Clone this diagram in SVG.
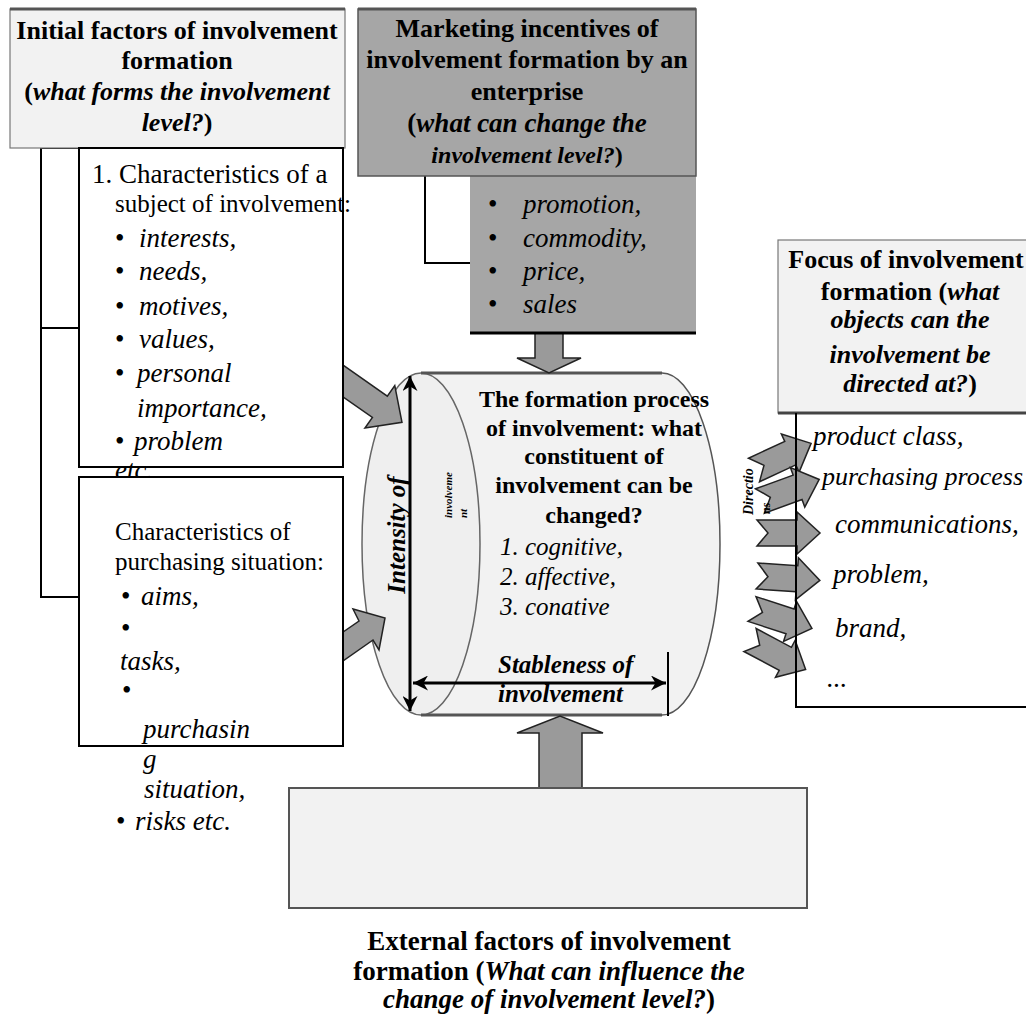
<svg xmlns="http://www.w3.org/2000/svg" width="1026" height="1015" viewBox="0 0 1026 1015">
<defs>
<style>
.t{font-family:'Liberation Serif','Times New Roman',serif;fill:#000}
.b{font-weight:bold}
.i{font-style:italic}
.n{font-style:normal}
.c{text-anchor:middle}
.s25{font-size:25px}
.s27{font-size:27px}
.s26{font-size:26px}
.blk{fill:#9a9a9a;stroke:#222;stroke-width:1.5;stroke-linejoin:miter}
.wbox{fill:#fff;stroke:#000;stroke-width:2}
.lbox{fill:#f2f2f2;stroke:#777;stroke-width:1.2}
.ln{fill:none;stroke:#000;stroke-width:2}
.dim{fill:none;stroke:#000;stroke-width:3}
</style>
<marker id="ah" viewBox="0 0 10 10" refX="10" refY="5" markerWidth="17" markerHeight="15" markerUnits="userSpaceOnUse" orient="auto-start-reverse">
<path d="M0,0 L10,5 L0,10 L3,5 z" fill="#000"/>
</marker>
<path id="chev" d="M0,-13 L40,-13 L40,-21 L63,0 L40,21 L40,13 L0,13 L11,0 z"/>
</defs>
<rect width="1026" height="1015" fill="#fff"/>

<!-- central cylinder -->
<g id="process">
<path d="M421,373 L662,373 A58,171 0 0 1 662,715 L421,715 z" fill="#f2f2f2"/>
<path d="M662,373 A58,171 0 0 1 662,715" fill="none" stroke="#555" stroke-width="1.5"/>
<ellipse cx="421" cy="544" rx="59" ry="171" fill="#efefef" stroke="#666" stroke-width="1.5"/>
<line x1="421" y1="373" x2="662" y2="373" stroke="#555" stroke-width="3"/>
<line x1="421" y1="715" x2="662" y2="715" stroke="#555" stroke-width="3"/>
<text class="t b c" font-size="24"><tspan x="594" y="407">The formation process</tspan><tspan x="594" y="436">of involvement: what</tspan><tspan x="594" y="464">constituent of</tspan><tspan x="594" y="493">involvement can be</tspan><tspan x="594" y="523">changed?</tspan></text>
<text class="t i s25"><tspan x="500" y="555">1. cognitive,</tspan><tspan x="500" y="585">2. affective,</tspan><tspan x="500" y="615">3. conative</tspan></text>
<line class="dim" x1="410" y1="376" x2="410" y2="711" marker-start="url(#ah)" marker-end="url(#ah)"/>
<line class="dim" x1="413" y1="683" x2="666" y2="683" marker-start="url(#ah)" marker-end="url(#ah)"/>
<line x1="668" y1="652" x2="668" y2="716" stroke="#000" stroke-width="2"/>
<text class="t b i s25" transform="translate(405,535) rotate(-90)" text-anchor="middle">Intensity of</text>
<text class="t b i" font-size="11" transform="translate(452,518) rotate(-90)">involveme</text>
<text class="t b i" font-size="11" transform="translate(467,518) rotate(-90)">nt</text>
<text class="t b i s25"><tspan x="498" y="673">Stableness of</tspan><tspan x="498" y="702">involvement</tspan></text>
</g>

<!-- connectors: block arrows and brackets -->
<g id="connectors">
<polygon class="blk" transform="translate(343,381) rotate(35)" points="-12,-13 45,-13 45,-26 72,0 45,26 45,13 -12,13"/>
<polygon class="blk" points="330,641 359,621 353,609 385,618 379,650 373,640 330,670"/>
<polygon class="blk" points="535,330 563,330 563,358 581,358 549,373 517,358 535,358"/>
<polygon class="blk" points="539,788 582,788 582,733 603,733 560,716 517,733 539,733"/>
<use href="#chev" class="blk" transform="translate(754,470) rotate(-25)"/>
<use href="#chev" class="blk" transform="translate(760,501) rotate(-20)"/>
<use href="#chev" class="blk" transform="translate(757,533)"/>
<use href="#chev" class="blk" transform="translate(757,576) rotate(4)"/>
<use href="#chev" class="blk" transform="translate(752,609) rotate(18)"/>
<use href="#chev" class="blk" transform="translate(750,640) rotate(28)"/>
<text class="t b i" font-size="14" transform="translate(753,515) rotate(-90)">Directio</text>
<text class="t b i" font-size="12" transform="translate(770,514) rotate(-90)">ns</text>
<polyline class="ln" points="79,148 41,148 41,597 79,597"/>
<line class="ln" x1="41" y1="328" x2="79" y2="328"/>
<polyline class="ln" points="425,176 425,263 472,263"/>
</g>

<!-- initial factors -->
<g id="initial-factors">
<rect class="lbox" x="10" y="9" width="335" height="139"/>
<line x1="10" y1="9" x2="345" y2="9" stroke="#555" stroke-width="3"/>
<text class="t b c s26" x="177" y="39">Initial factors of involvement</text>
<text class="t b c s26" x="177" y="69">formation</text>
<text class="t b c s26" x="177" y="100">(<tspan class="i">what forms the involvement</tspan></text>
<text class="t b c s26" x="177" y="131"><tspan class="i">level?</tspan>)</text>
</g>

<g id="subject-characteristics">
<rect class="wbox" x="79" y="148" width="264" height="319"/>
<text class="t" font-size="27" x="92" y="183">1. Characteristics of a</text>
<text class="t s25" x="115" y="212">subject of involvement:</text>
<g class="t s27">
<text x="115" y="247">•<tspan class="i" x="139">interests,</tspan></text>
<text x="115" y="280">•<tspan class="i" x="139">needs,</tspan></text>
<text x="115" y="315">•<tspan class="i" x="139">motives,</tspan></text>
<text x="115" y="348">•<tspan class="i" x="139">values,</tspan></text>
<text x="115" y="382">•<tspan class="i" x="137">personal</tspan></text>
<text class="i" x="137" y="417">importance,</text>
<text x="115" y="450">•<tspan class="i" x="134">problem</tspan></text>
<text class="i" x="115" y="479">etc.</text>
</g>
</g>

<g id="purchasing-situation">
<rect class="wbox" x="79" y="477" width="264" height="269"/>
<text class="t s25" x="115" y="540">Characteristics of</text>
<text class="t s25" x="115" y="570">purchasing situation:</text>
<g class="t s27">
<text x="121" y="605">•<tspan class="i" x="141">aims,</tspan></text>
<text x="121" y="637">•</text>
<text class="i" x="120" y="670">tasks,</text>
<text x="122" y="699">•</text>
<text class="i" x="143" y="738">purchasin</text>
<text class="i" x="143" y="768">g</text>
<text class="i" x="144" y="798">situation,</text>
<text x="116" y="830">•<tspan class="i" x="135">risks etc.</tspan></text>
</g>
</g>

<!-- marketing incentives -->
<g id="marketing-incentives">
<rect x="470" y="170" width="226" height="163" fill="#a6a6a6"/>
<rect x="358" y="9" width="338" height="167" fill="#a6a6a6" stroke="#555" stroke-width="1.5"/>
<line x1="358" y1="9" x2="696" y2="9" stroke="#555" stroke-width="3"/>
<line x1="470" y1="333" x2="696" y2="333" stroke="#000" stroke-width="3"/>
<text class="t b c s26" x="527" y="37">Marketing incentives of</text>
<text class="t b c s26" x="527" y="68">involvement formation by an</text>
<text class="t b c s26" x="527" y="100">enterprise</text>
<text class="t b c s27" x="527" y="132">(<tspan class="i">what can change the</tspan></text>
<text class="t b c" font-size="24" x="527" y="163"><tspan class="i">involvement level?</tspan>)</text>
<g class="t s27">
<text x="488" y="213">•<tspan class="i" x="523">promotion,</tspan></text>
<text x="488" y="247">•<tspan class="i" x="523">commodity,</tspan></text>
<text x="488" y="280">•<tspan class="i" x="523">price,</tspan></text>
<text x="488" y="313">•<tspan class="i" x="523">sales</tspan></text>
</g>
</g>

<!-- focus -->
<g id="focus">
<rect class="lbox" x="778" y="240" width="260" height="173"/>
<line x1="778" y1="413" x2="1026" y2="413" stroke="#444" stroke-width="3"/>
<text class="t b c s26" x="906" y="268">Focus of involvement</text>
<text class="t b c s26" x="910" y="300">formation (<tspan class="i">what</tspan></text>
<text class="t b i c s26" x="910" y="328">objects can the</text>
<text class="t b i c s26" x="910" y="363">involvement be</text>
<text class="t b c s26" x="910" y="392"><tspan class="i">directed at?</tspan>)</text>
</g>

<g id="focus-objects">
<polyline class="ln" points="796,413 796,707 1026,707"/>
<g class="t i s27">
<text x="813" y="445">product class,</text>
<text x="822" y="485" font-size="26">purchasing process</text>
<text x="835" y="533">communications,</text>
<text x="833" y="583">problem,</text>
<text x="835" y="637">brand,</text>
<text x="827" y="687">...</text>
</g>
</g>

<!-- external factors -->
<g id="external-factors">
<rect x="289" y="788" width="518" height="120" fill="#f2f2f2" stroke="#555" stroke-width="2"/>
<text class="t b c s27" x="549" y="950">External factors of involvement</text>
<text class="t b c s27" x="549" y="980">formation (<tspan class="i">What can influence the</tspan></text>
<text class="t b c s27" x="549" y="1008"><tspan class="i">change of involvement level?</tspan>)</text>
</g>
</svg>
